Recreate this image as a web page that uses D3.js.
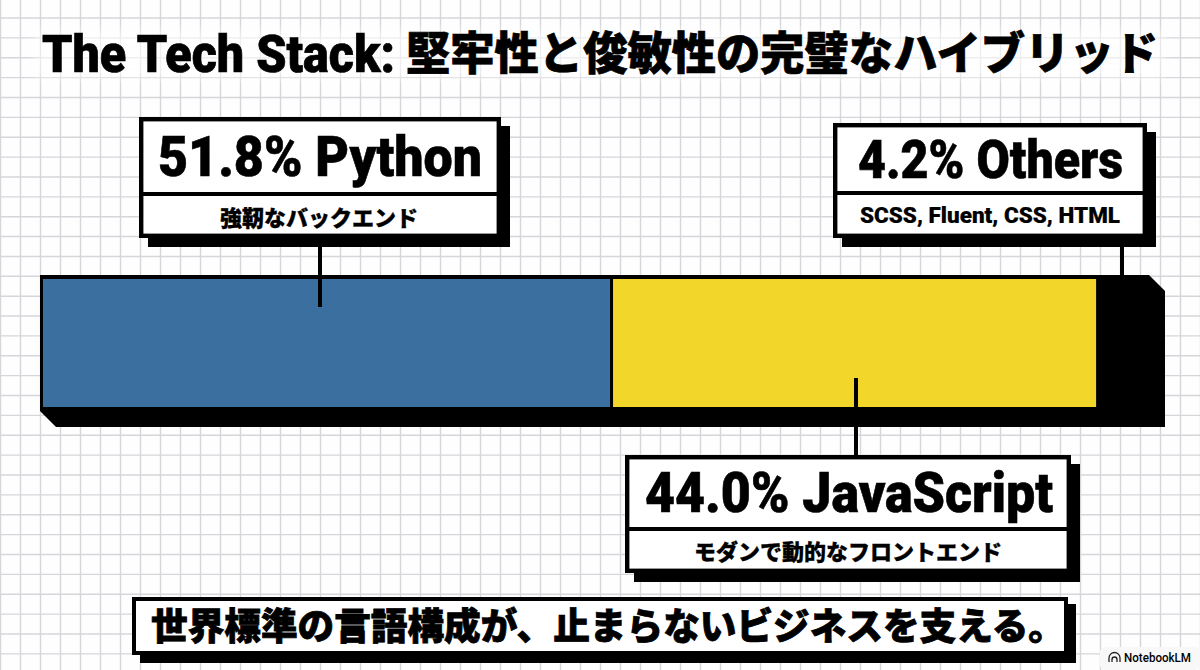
<!DOCTYPE html>
<html>
<head>
<meta charset="utf-8">
<script src="https://cdn.jsdelivr.net/npm/d3@7"></script>
<style>
  html, body { margin: 0; padding: 0; background: #fff; overflow: hidden; }
  text { font-family: Roboto, "Noto Sans CJK JP", sans-serif; fill: #000; }
</style>
</head>
<body>
<div id="chart"></div>
<script>
// share of code per language
const categories = ['Python', 'JavaScript', 'Others']
const shares = [51.8, 44.0, 4.2]
const headlines = ['51.8% Python', '44.0% JavaScript', '4.2% Others']
const sublabels = ['強靭なバックエンド', 'モダンで動的なフロントエンド', 'SCSS, Fluent, CSS, HTML']
const colors = ['#3a6f9f', '#f2d62a', '#000000']

const width = 1200,
  height = 670

const svg = d3.select('#chart').append('svg').attr('width', width).attr('height', height)

svg.append('rect').attr('width', width).attr('height', height).attr('fill', '#fefefe')

const blur = svg.append('defs').append('filter').attr('id', 'soft')
blur.append('feGaussianBlur').attr('stdDeviation', 6)

// graph paper background
const grid = svg.append('g').attr('stroke', '#d6d6da').attr('stroke-width', 1.4)
grid
  .selectAll('line.v')
  .data(d3.range(0, 61))
  .join('line')
  .attr('x1', (i) => i * 20 + 0.5)
  .attr('x2', (i) => i * 20 + 0.5)
  .attr('y1', 0)
  .attr('y2', height)
grid
  .selectAll('line.h')
  .data(d3.range(0, 34))
  .join('line')
  .attr('x1', 0)
  .attr('x2', width)
  .attr('y1', (i) => 18 + i * 19.87)
  .attr('y2', (i) => 18 + i * 19.87)

// grid fades out behind the title
svg
  .append('rect')
  .attr('x', 36)
  .attr('y', 30)
  .attr('width', 1128)
  .attr('height', 48)
  .attr('fill', '#fff')
  .attr('opacity', 0.6)
  .attr('filter', 'url(#soft)')

// squeeze or stretch a text to the width it has in the picture
const fitText = (g, str, x, baseline, size, weight, w, stroke) => {
  return g
    .append('text')
    .attr('x', x)
    .attr('y', baseline)
    .attr('font-size', size)
    .attr('font-weight', weight)
    .attr('textLength', w)
    .attr('lengthAdjust', 'spacingAndGlyphs')
    .attr('stroke', '#000')
    .attr('stroke-width', stroke)
    .text(str)
}

fitText(svg, 'The Tech Stack:', 42, 72, 51, 900, 353, 0.7)
fitText(svg, '堅牢性と俊敏性の完璧なハイブリッド', 406, 70, 45, 900, 752, 0.7)

// stacked bar
const x = d3.scaleLinear().domain([0, 100]).range([43, 1142.5])
const stack = d3.cumsum(shares)

// extruded shadow + frame of the bar
svg
  .append('path')
  .attr('d', 'M40,275H1149L1165,291V427H56L40,411Z')
  .attr('fill', '#000')

svg
  .selectAll('rect.segment')
  .data(categories)
  .join('rect')
  .attr('class', 'segment')
  .attr('x', (d, i) => x(stack[i] - shares[i]))
  .attr('y', 279)
  .attr('width', (d, i) => x(shares[i]) - x(0))
  .attr('height', 128)
  .attr('fill', (d, i) => colors[i])

// separators between segments
svg
  .selectAll('line.sep')
  .data(stack.slice(0, 1))
  .join('line')
  .attr('x1', (d) => x(d) - 1)
  .attr('x2', (d) => x(d) - 1)
  .attr('y1', 279)
  .attr('y2', 407)
  .attr('stroke', '#000')
  .attr('stroke-width', 3)

// callouts
const callout = (o) => {
  const g = svg.append('g')
  g.append('line')
    .attr('x1', o.lx)
    .attr('x2', o.lx)
    .attr('y1', o.ly1)
    .attr('y2', o.ly2)
    .attr('stroke', '#000')
    .attr('stroke-width', 4)
  g.append('rect')
    .attr('x', o.x + 9)
    .attr('y', o.y + 9)
    .attr('width', o.w)
    .attr('height', o.h)
    .attr('fill', '#000')
  g.append('rect')
    .attr('x', o.x + 2.2)
    .attr('y', o.y + 2.2)
    .attr('width', o.w - 4.4)
    .attr('height', o.h - 4.4)
    .attr('fill', '#fff')
    .attr('stroke', '#000')
    .attr('stroke-width', 4.4)
  g.append('rect').attr('x', o.x).attr('y', o.div).attr('width', o.w).attr('height', 4).attr('fill', '#000')
  fitText(g, o.head, o.hx, o.hy, o.hs, 900, o.hw, 0.6)
  fitText(g, o.sub, o.sx, o.sy, o.ss, 900, o.sw, o.sst)
}

callout({ x: 139, y: 117, w: 362, h: 121, div: 192, lx: 320, ly1: 240, ly2: 307,
  head: headlines[0], hx: 158, hy: 176, hs: 56, hw: 324,
  sub: sublabels[0], sx: 220, sy: 226, ss: 22, sw: 198, sst: 0.3 })
callout({ x: 625, y: 455, w: 446, h: 118, div: 527, lx: 856, ly1: 378, ly2: 456,
  head: headlines[1], hx: 645, hy: 512, hs: 55, hw: 408,
  sub: sublabels[1], sx: 694, sy: 560, ss: 22, sw: 308, sst: 0.3 })
callout({ x: 833, y: 123, w: 314, h: 115, div: 191, lx: 1122, ly1: 240, ly2: 276,
  head: headlines[2], hx: 858, hy: 178, hs: 54, hw: 265,
  sub: sublabels[2], sx: 860, sy: 223, ss: 22, sw: 260, sst: 0.2 })

// takeaway strip
const strip = svg.append('g')
strip.append('rect').attr('x', 140).attr('y', 604).attr('width', 936).attr('height', 59).attr('fill', '#000')
strip.append('rect').attr('x', 134).attr('y', 599).attr('width', 932).attr('height', 54).attr('fill', '#fff').attr('stroke', '#000').attr('stroke-width', 4)
fitText(strip, '世界標準の言語構成が、止まらないビジネスを支える。', 151, 640, 37, 900, 914, 0.8)

// watermark
const badge = svg.append('g')
badge.append('rect').attr('x', 1100).attr('y', 647).attr('width', 100).attr('height', 23).attr('rx', 5).attr('fill', '#f8f8f8')
badge
  .append('path')
  .attr('d', 'M1109,662V658A5.5,5.5 0 0 1 1120,658V662M1112,662V659.5A2.5,2.5 0 0 1 1117,659.5V662')
  .attr('fill', 'none')
  .attr('stroke', '#222')
  .attr('stroke-width', 1.3)
badge
  .append('text')
  .attr('x', 1124)
  .attr('y', 661.5)
  .attr('font-size', 12)
  .attr('font-weight', 500)
  .attr('font-family', 'Inter, Roboto, sans-serif')
  .attr('fill', '#222')
  .attr('textLength', 67)
  .attr('lengthAdjust', 'spacingAndGlyphs')
  .text('NotebookLM')
</script>
</body>
</html>
